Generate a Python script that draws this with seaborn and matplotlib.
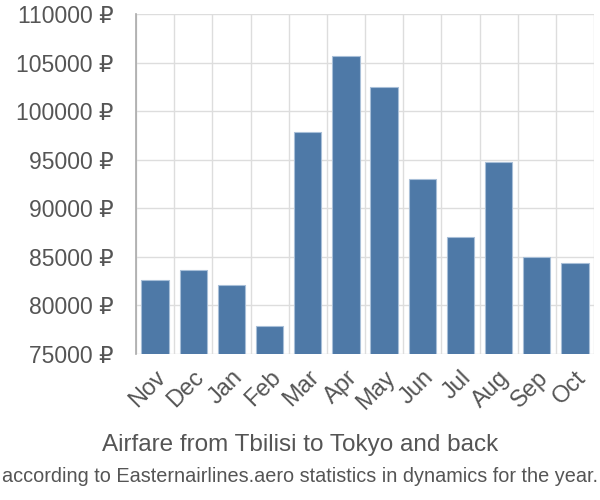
import matplotlib
matplotlib.use("Agg")
import matplotlib.pyplot as plt
import seaborn as sns
import pandas as pd
import numpy as np
from matplotlib.ticker import FixedLocator

months = ["Nov", "Dec", "Jan", "Feb", "Mar", "Apr", "May", "Jun", "Jul", "Aug", "Sep", "Oct"]
prices = [82650, 83650, 82150, 77900, 97850, 105700, 102500, 93050, 87050, 94800, 85000, 84350]
yticks = [75000, 80000, 85000, 90000, 95000, 100000, 105000, 110000]
title = "Airfare from Tbilisi to Tokyo and back"
subtitle = "according to Easternairlines.aero statistics in dynamics for the year."

sns.set_style("white")
plt.rcParams['font.family'] = ['Liberation Sans', 'DejaVu Sans']

df = pd.DataFrame({"month": months, "price": prices})

fig = plt.figure(figsize=(6, 5), dpi=100)
ax = fig.add_axes([136/600, 1-354/500, (594-136)/600, (354-14)/500])

sns.barplot(data=df, x="month", y="price", color="#4e79a7", saturation=1,
            width=0.72, edgecolor="#a8bfd8", linewidth=0.8, ax=ax, zorder=3)

n = len(months)
ax.set_xlim(-0.5, n - 0.5)
ax.set_ylim(yticks[0], yticks[-1])
ax.set_yticks(yticks)
ax.set_yticklabels([f"{v} ₽" for v in yticks])

# vertical gridlines at category boundaries
bounds = np.arange(-0.5, n, 1.0)
ax.xaxis.set_minor_locator(FixedLocator(bounds))
ax.grid(True, which="minor", axis="x", color="#dddddd", linewidth=1, zorder=0)
ax.grid(True, which="major", axis="y", color="#dddddd", linewidth=1, zorder=0)
ax.tick_params(axis="x", which="minor", length=14, color="#dddddd", width=1)
ax.tick_params(axis="x", which="major", length=0, pad=9, labelsize=17, labelcolor="#555555")
ax.tick_params(axis="y", length=20, color="#dddddd", width=1, pad=-4, labelsize=16.5, labelcolor="#555555")

for lab in ax.get_xticklabels():
    lab.set_rotation(45)
    lab.set_ha("right")
    lab.set_rotation_mode("anchor")

for s in ["top", "right", "bottom"]:
    ax.spines[s].set_visible(False)
ax.spines["left"].set_color("#aaaaaa")
ax.spines["left"].set_linewidth(1.2)
ax.set_xlabel("")
ax.set_ylabel("")

fig.text(0.5, 1-445/500, title, ha="center", va="center", fontsize=17.5, color="#555555")
fig.text(0.5, 1-477/500, subtitle, ha="center", va="center", fontsize=14.3, color="#555555")

fig.savefig("out.png", dpi=100)
